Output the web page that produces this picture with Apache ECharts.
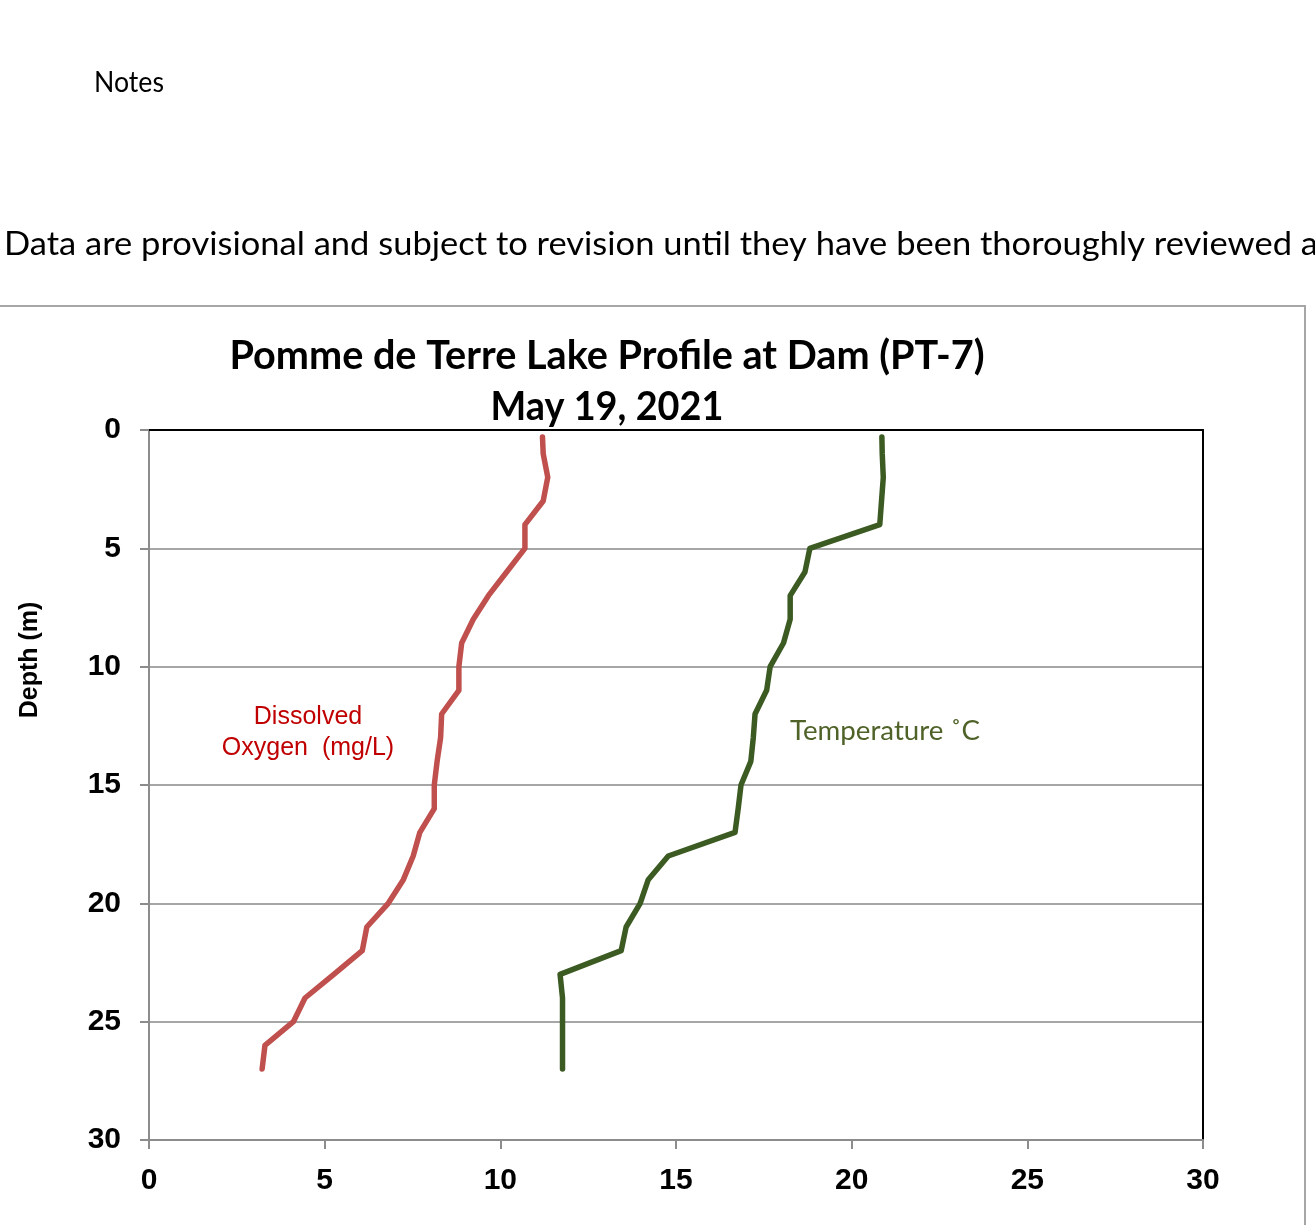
<!DOCTYPE html>
<html>
<head>
<meta charset="utf-8">
<script src="https://cdn.jsdelivr.net/npm/echarts@6/dist/echarts.min.js"></script>
<style>
html,body{margin:0;padding:0;background:#fff;}
#chart{width:1315px;height:1225px;}
</style>
</head>
<body>
<div id="chart"></div>
<script>
// ---- Data ----
const depths = [0.3, 1, 2, 3, 4, 5, 6, 7, 8, 9, 10, 11, 12, 13, 14, 15, 16, 17, 18, 19, 20, 21, 22, 23, 24, 25, 26, 27];
const doValues = [11.2, 11.22, 11.35, 11.22, 10.7, 10.7, 10.18, 9.66, 9.23, 8.9, 8.82, 8.82, 8.33, 8.3, 8.2, 8.12, 8.12, 7.71, 7.52, 7.24, 6.81, 6.2, 6.07, 5.26, 4.44, 4.11, 3.3, 3.22];
const tempValues = [20.86, 20.87, 20.9, 20.85, 20.8, 18.81, 18.67, 18.25, 18.25, 18.06, 17.68, 17.58, 17.25, 17.2, 17.13, 16.85, 16.77, 16.68, 14.78, 14.21, 13.98, 13.58, 13.44, 11.7, 11.77, 11.77, 11.77, 11.77];
const axisTicks = [0, 5, 10, 15, 20, 25, 30];

const titleLines = ['Pomme de Terre Lake Profile at Dam (PT-7)', 'May 19, 2021'];
const notesText = 'Notes';
const disclaimerText = 'Data are provisional and subject to revision until they have been thoroughly reviewed a';
const doLabel = 'Dissolved\nOxygen  (mg/L)';
const tempLabel = 'Temperature \u02DAC';
const yAxisName = 'Depth (m)';

// width fitting helper (Calibri-like look with Lato)
const mctx = document.createElement('canvas').getContext('2d');
function fitScale(text, font, target) {
  mctx.font = font;
  const w = mctx.measureText(text).width;
  return target / w;
}

const chart = echarts.init(document.getElementById('chart'), null, {renderer: 'canvas'});

const calib = 'Lato';
const titleFont = 'bold 40px ' + calib;
const notesFont = '29px ' + calib;
const discFont = '32px ' + calib;
const tempFont = '26px ' + calib;

const option = {
  backgroundColor: '#ffffff',
  animation: false,
  grid: {left: 149, top: 430, width: 1054, height: 710, containLabel: false},
  xAxis: [{
    type: 'value', position: 'bottom', min: 0, max: 30, interval: 5,
    axisLine: {show: true, onZero: false, lineStyle: {color: '#8c8c8c', width: 2}},
    axisTick: {show: true, inside: false, length: 9, lineStyle: {color: '#8c8c8c', width: 2}},
    axisLabel: {show: true, margin: 26, color: '#000', fontFamily: 'Liberation Sans', fontWeight: 'bold', fontSize: 30,
      formatter: v => axisTicks.includes(v) ? String(v) : ''},
    splitLine: {show: false}
  }, {
    type: 'value', position: 'top', min: 0, max: 30, interval: 5,
    axisLine: {show: true, onZero: false, lineStyle: {color: '#000', width: 2}},
    axisTick: {show: false}, axisLabel: {show: false}, splitLine: {show: false}
  }],
  yAxis: [{
    type: 'value', position: 'left', inverse: true, min: 0, max: 30, interval: 5,
    axisLine: {show: true, onZero: false, lineStyle: {color: '#8c8c8c', width: 2}},
    axisTick: {show: true, inside: false, length: 9, lineStyle: {color: '#8c8c8c', width: 2}},
    axisLabel: {show: true, margin: 28, color: '#000', fontFamily: 'Liberation Sans', fontWeight: 'bold', fontSize: 30,
      formatter: v => axisTicks.includes(v) ? String(v) : ''},
    splitLine: {show: true, lineStyle: {color: '#a6a6a6', width: 2}}
  }, {
    type: 'value', inverse: true, position: 'right', min: 0, max: 30, interval: 5,
    axisLine: {show: true, onZero: false, lineStyle: {color: '#000', width: 2}},
    axisTick: {show: false}, axisLabel: {show: false}, splitLine: {show: false}
  }],
  series: [{
    name: 'Dissolved Oxygen (mg/L)', type: 'line', xAxisIndex: 0, yAxisIndex: 0,
    data: depths.map((d, i) => [doValues[i], d]),
    showSymbol: false, silent: true,
    lineStyle: {color: '#c0504d', width: 5.5, cap: 'round', join: 'round'},
    z: 3
  }, {
    name: 'Temperature \u02DAC', type: 'line', xAxisIndex: 0, yAxisIndex: 0,
    data: depths.map((d, i) => [tempValues[i], d]),
    showSymbol: false, silent: true,
    lineStyle: {color: '#3c5b23', width: 5.5, cap: 'round', join: 'round'},
    z: 3
  }],
  graphic: [
    // chart area frame
    {type: 'polyline', silent: true, shape: {points: [[-2, 306], [1305, 306], [1305, 1240]]},
      style: {stroke: '#a6a6a6', lineWidth: 2, fill: null}},
    {type: 'text', x: 94, y: 83, scaleX: fitScale(notesText, notesFont, 70),
      style: {text: notesText, font: notesFont, fill: '#000', textVerticalAlign: 'middle'}},
    {type: 'text', x: 4, y: 245, scaleX: fitScale('Data are provisional and subject to revision until they have been thoroughly reviewed', discFont, 1288),
      style: {text: disclaimerText, font: discFont, fill: '#000', textVerticalAlign: 'middle'}},
    {type: 'text', x: 607, y: 356, scaleX: fitScale(titleLines[0], titleFont, 755),
      style: {text: titleLines[0], font: titleFont, fill: '#000', textAlign: 'center', textVerticalAlign: 'middle'}},
    {type: 'text', x: 607, y: 407, scaleX: fitScale(titleLines[1], titleFont, 233),
      style: {text: titleLines[1], font: titleFont, fill: '#000', textAlign: 'center', textVerticalAlign: 'middle'}},
    {type: 'text', x: 30, y: 660, rotation: Math.PI / 2,
      style: {text: yAxisName, font: 'bold 25px "Liberation Sans"', fill: '#000', textAlign: 'center', textVerticalAlign: 'middle'}},
    {type: 'text', x: 308, y: 733,
      style: {text: doLabel, font: '25px "Liberation Sans"', fill: '#c00000', textAlign: 'center', textVerticalAlign: 'middle', lineHeight: 31}},
    {type: 'text', x: 885, y: 732, scaleX: fitScale(tempLabel, tempFont, 190),
      style: {text: tempLabel, font: tempFont, fill: '#4f6228', textAlign: 'center', textVerticalAlign: 'middle'}}
  ]
};
chart.setOption(option);
</script>
</body>
</html>
